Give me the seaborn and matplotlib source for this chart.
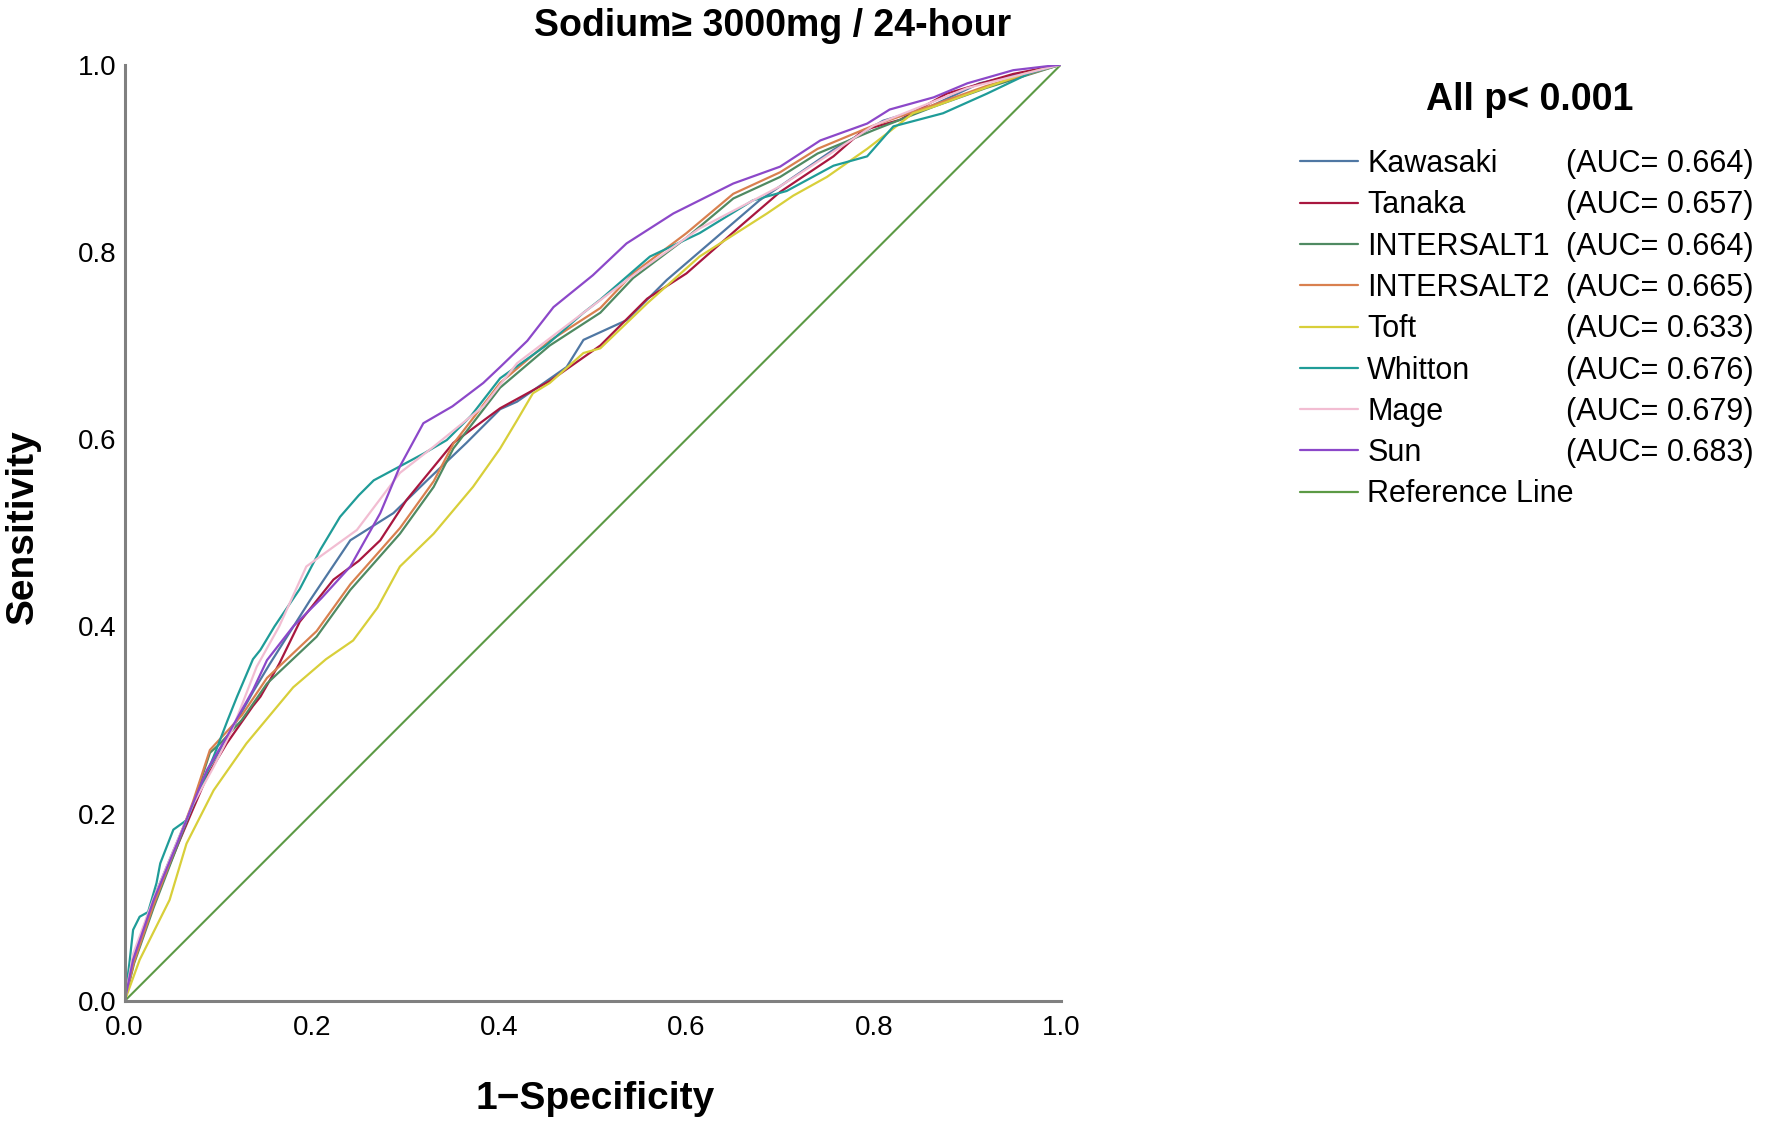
import matplotlib
matplotlib.use("Agg")
import matplotlib.pyplot as plt
from matplotlib.lines import Line2D
import numpy as np
import pandas as pd
import seaborn as sns

sns.set_style("white")
plt.rcParams['font.family'] = ['Liberation Sans', 'DejaVu Sans']
plt.rcParams['text.color'] = "black"

kawasaki_x = [0, 0.009, 0.031, 0.056, 0.073, 0.088, 0.109, 0.137, 0.155, 0.198, 0.241, 0.287, 0.323, 0.365, 0.401, 0.419,
              0.472, 0.490, 0.536, 0.579, 0.678, 0.757, 0.81, 0.86, 0.913, 1.0]
kawasaki_y = [0, 0.045, 0.11, 0.17, 0.21, 0.245, 0.28, 0.33, 0.36, 0.428, 0.492, 0.521, 0.556, 0.596, 0.632, 0.640,
              0.677, 0.706, 0.727, 0.770, 0.855, 0.909, 0.94, 0.955, 0.98, 1.0]

tanaka_x = [0, 0.009, 0.031, 0.056, 0.073, 0.088, 0.109, 0.137, 0.145, 0.165, 0.187, 0.223, 0.250, 0.273, 0.301, 0.351,
            0.401, 0.454, 0.508, 0.558, 0.600, 0.657, 0.700, 0.757, 0.789, 0.828, 0.878, 0.949, 1.0]
tanaka_y = [0, 0.04, 0.105, 0.165, 0.205, 0.240, 0.275, 0.315, 0.325, 0.36, 0.405, 0.450, 0.470, 0.492, 0.535, 0.596,
            0.633, 0.662, 0.700, 0.750, 0.777, 0.827, 0.864, 0.902, 0.930, 0.941, 0.969, 0.99, 1.0]

intersalt_x = [0, 0.01, 0.031, 0.056, 0.073, 0.091, 0.102, 0.125, 0.152, 0.205, 0.241, 0.294, 0.330, 0.351, 0.401, 0.454,
               0.508, 0.543, 0.60, 0.650, 0.70, 0.74, 0.80, 0.864, 0.92, 1.0]
intersalt1_y = [0, 0.04, 0.10, 0.165, 0.21, 0.265, 0.275, 0.30, 0.339, 0.389, 0.439, 0.499, 0.549, 0.590, 0.655, 0.700,
                0.735, 0.772, 0.815, 0.857, 0.88, 0.905, 0.93, 0.955, 0.975, 1.0]
intersalt2_y = [0, 0.042, 0.103, 0.168, 0.213, 0.268, 0.28, 0.305, 0.345, 0.395, 0.445, 0.505, 0.555, 0.595, 0.660, 0.705,
                0.74, 0.777, 0.82, 0.862, 0.885, 0.91, 0.935, 0.957, 0.977, 1.0]

toft_x = [0, 0.016, 0.048, 0.066, 0.095, 0.130, 0.180, 0.215, 0.244, 0.270, 0.294, 0.330, 0.372, 0.401, 0.419, 0.436,
          0.454, 0.490, 0.508, 0.558, 0.614, 0.686, 0.714, 0.75, 0.793, 0.842, 0.864, 0.913, 0.96, 1.0]
toft_y = [0, 0.044, 0.108, 0.168, 0.225, 0.275, 0.335, 0.365, 0.385, 0.42, 0.464, 0.499, 0.549, 0.590, 0.620, 0.649,
          0.660, 0.692, 0.697, 0.745, 0.795, 0.841, 0.860, 0.88, 0.910, 0.948, 0.955, 0.973, 0.99, 1.0]

whitton_x = [0, 0.005, 0.009, 0.016, 0.025, 0.034, 0.038, 0.052, 0.066, 0.08, 0.095, 0.11, 0.120, 0.137, 0.145, 0.160,
             0.187, 0.209, 0.230, 0.250, 0.266, 0.294, 0.320, 0.344, 0.370, 0.401, 0.45, 0.490, 0.508, 0.561, 0.614,
             0.671, 0.707, 0.757, 0.793, 0.821, 0.874, 0.921, 0.967, 1.0]
whitton_y = [0, 0.04, 0.076, 0.090, 0.095, 0.126, 0.147, 0.183, 0.193, 0.225, 0.261, 0.30, 0.325, 0.365, 0.375, 0.40,
             0.44, 0.482, 0.517, 0.54, 0.556, 0.571, 0.585, 0.599, 0.625, 0.665, 0.70, 0.735, 0.749, 0.795, 0.820,
             0.855, 0.865, 0.892, 0.902, 0.934, 0.948, 0.969, 0.991, 1.0]

mage_x = [0, 0.009, 0.031, 0.056, 0.073, 0.095, 0.115, 0.141, 0.165, 0.194, 0.248, 0.294, 0.330, 0.383, 0.419, 0.490,
          0.55, 0.614, 0.70, 0.80, 0.90, 1.0]
mage_y = [0, 0.05, 0.11, 0.17, 0.21, 0.25, 0.29, 0.357, 0.40, 0.464, 0.503, 0.564, 0.592, 0.635, 0.681, 0.735,
          0.78, 0.825, 0.87, 0.935, 0.975, 1.0]

sun_x = [0, 0.009, 0.031, 0.056, 0.073, 0.088, 0.109, 0.137, 0.152, 0.18, 0.21, 0.241, 0.273, 0.294, 0.319, 0.35,
         0.383, 0.401, 0.430, 0.458, 0.50, 0.536, 0.586, 0.650, 0.70, 0.743, 0.793, 0.817, 0.864, 0.9, 0.949, 1.0]
sun_y = [0, 0.044, 0.108, 0.168, 0.211, 0.247, 0.282, 0.332, 0.364, 0.40, 0.43, 0.464, 0.521, 0.571, 0.617, 0.635,
         0.660, 0.677, 0.705, 0.741, 0.775, 0.809, 0.841, 0.873, 0.891, 0.919, 0.937, 0.952, 0.965, 0.98, 0.994, 1.0]

ref_x = [0, 1]
ref_y = [0, 1]

noms = ["Kawasaki", "Tanaka", "INTERSALT1", "INTERSALT2", "Toft", "Whitton", "Mage", "Sun"]
auc = ["0.664", "0.657", "0.664", "0.665", "0.633", "0.676", "0.679", "0.683"]
couleurs = ["#4f77a3", "#a8173f", "#4f8a62", "#d9804f", "#d8cf3a", "#1f9c98", "#f2bdd2", "#8c48c9"]
ref_couleur = "#5c9a45"

courbes = [(kawasaki_x, kawasaki_y), (tanaka_x, tanaka_y), (intersalt_x, intersalt1_y), (intersalt_x, intersalt2_y),
           (toft_x, toft_y), (whitton_x, whitton_y), (mage_x, mage_y), (sun_x, sun_y)]

morceaux = []
for nom, (xs, ys) in zip(noms, courbes):
    morceaux.append(pd.DataFrame({"fpr": xs, "tpr": ys, "modele": nom}))
DF = pd.concat(morceaux, ignore_index=True)

fig = plt.figure(figsize=(17.76, 11.27), dpi=100)
ax = fig.add_axes([0.0702, 0.1118, 0.5272, 0.8309])

sns.lineplot(x=ref_x, y=ref_y, color=ref_couleur, linewidth=1.5, ax=ax)
sns.lineplot(data=DF, x="fpr", y="tpr", hue="modele", hue_order=noms, palette=couleurs,
             sort=False, estimator=None, linewidth=1.6, ax=ax, legend=False)

ax.set_xlim(0, 1)
ax.set_ylim(0, 1)
ax.set_xticks([0, 0.2, 0.4, 0.6, 0.8, 1.0])
ax.set_yticks([0, 0.2, 0.4, 0.6, 0.8, 1.0])
ax.set_xticklabels(["0.0", "0.2", "0.4", "0.6", "0.8", "1.0"])
ax.set_yticklabels(["0.0", "0.2", "0.4", "0.6", "0.8", "1.0"])
ax.tick_params(axis="both", length=0, labelsize=20, colors="black")
ax.tick_params(axis="x", pad=10)
ax.tick_params(axis="y", pad=6)
ax.set_xlabel("")
ax.set_ylabel("")
for cote in ["top", "right"]:
    ax.spines[cote].set_visible(False)
for cote in ["left", "bottom"]:
    ax.spines[cote].set_color("#808080")
    ax.spines[cote].set_linewidth(2.2)

# textes
fig.text(773 / 1776, 1 - 26 / 1127, "Sodium≥ 3000mg / 24-hour", ha="center", va="center",
         fontsize=27, fontweight="bold", color="black")
fig.text(595 / 1776, 1 - 1099 / 1127, "1\u2212Specificity", ha="center", va="center",
         fontsize=28, fontweight="bold", color="black")
fig.text(23 / 1776, 1 - 527 / 1127, "Sensitivity", ha="center", va="center", rotation=90,
         fontsize=28, fontweight="bold", color="black")
fig.text(1530 / 1776, 1 - 100 / 1127, "All p< 0.001", ha="center", va="center",
         fontsize=27, fontweight="bold", color="black")

# legende : noms + colonne AUC
poignees = [Line2D([0], [0], color=c, linewidth=1.6) for c in couleurs]
poignees.append(Line2D([0], [0], color=ref_couleur, linewidth=1.6))
leg1 = fig.legend(poignees, noms + ["Reference Line"], loc="upper left", bbox_to_anchor=(1300 / 1776, 1 - 149 / 1127),
                  frameon=False, fontsize=22, handlelength=1.9, handletextpad=0.3, labelspacing=0.37,
                  borderpad=0, borderaxespad=0)
vides = [Line2D([0], [0], color="none") for a in auc]
leg2 = fig.legend(vides, ["(AUC= " + a + ")" for a in auc], loc="upper left",
                  bbox_to_anchor=(1566 / 1776, 1 - 149 / 1127), frameon=False, fontsize=22,
                  handlelength=0, handletextpad=0, labelspacing=0.37, borderpad=0, borderaxespad=0)
for leg in (leg1, leg2):
    for t in leg.get_texts():
        t.set_color("black")

fig.savefig("out.png", dpi=100, facecolor="white")
